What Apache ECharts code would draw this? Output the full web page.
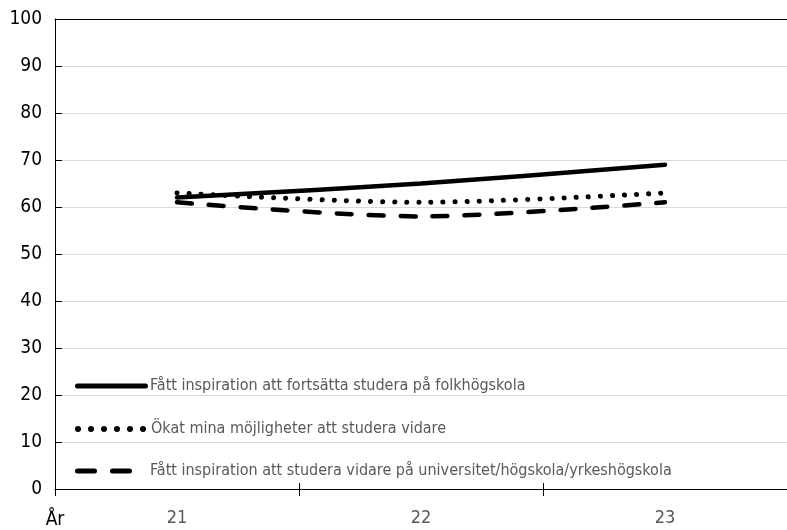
<!DOCTYPE html>
<html><head><meta charset="utf-8">
<script src="https://cdn.jsdelivr.net/npm/echarts@6/dist/echarts.min.js"></script>
<style>html,body{margin:0;padding:0;background:#fff}#c{width:787px;height:530px}</style>
</head><body><div id="c"></div>
<script>
const categories = ['21', '22', '23'];
const seriesNames = [
  'Fått inspiration att fortsätta studera på folkhögskola',
  'Ökat mina möjligheter att studera vidare',
  'Fått inspiration att studera vidare på universitet/högskola/yrkeshögskola'
];
const folkhogskola = [62, 65, 69];
const mojligheter = [63, 61, 63];
const universitet = [61, 58, 61];
const yTicks = [0, 10, 20, 30, 40, 50, 60, 70, 80, 90, 100];

const FONT = '"Liberation Sans Narrow", "DejaVu Sans Condensed", sans-serif';
const chart = echarts.init(document.getElementById('c'), null, {renderer: 'canvas'});

function roundBar(x0, x1) {
  return 'M' + (x0 + 2.5) + ',0 H' + (x1 - 2.5) + ' A2.5,2.5 0 0 1 ' + (x1 - 2.5) + ',5 H' + (x0 + 2.5) + ' A2.5,2.5 0 0 1 ' + (x0 + 2.5) + ',0 Z ';
}
function dot(cx) {
  return 'M' + (cx - 3) + ',3 A3,3 0 1 1 ' + (cx + 3) + ',3 A3,3 0 1 1 ' + (cx - 3) + ',3 Z ';
}
const iconSolid = 'path://' + roundBar(0, 73);
let dotsPath = '';
for (let i = 0; i < 6; i++) dotsPath += dot(3 + 13 * i);
const iconDots = 'path://' + dotsPath;
const iconDash = 'path://' + roundBar(0, 22) + roundBar(35, 57);

function legendAt(name, top, icon, w, h, padLeft) {
  return {
    data: [{name: name, icon: icon}], left: 75, top: top, orient: 'vertical',
    itemWidth: w, itemHeight: h, itemGap: 4, padding: 0,
    selectedMode: false,
    itemStyle: {color: '#000'},
    textStyle: {fontFamily: FONT, fontSize: 16, color: '#595959', padding: [0, 0, 0, padLeft]}
  };
}

chart.setOption({
  animation: false,
  color: ['#000', '#000', '#000'],
  grid: {left: 55, right: -6, top: 19, bottom: 38, containLabel: false},
  legend: [
    legendAt(seriesNames[0], 378, iconSolid, 73, 5, -3),
    legendAt(seriesNames[1], 421, iconDots, 71, 6, 0),
    legendAt(seriesNames[2], 463, iconDash, 57, 5, 13)
  ],
  xAxis: [
    {
      type: 'category', data: categories, boundaryGap: true, position: 'bottom',
      axisLine: {show: true, lineStyle: {color: '#000', width: 1}},
      axisTick: {show: true, inside: false, length: 7, lineStyle: {color: '#000'}},
      axisLabel: {fontFamily: FONT, fontSize: 18, color: '#595959', margin: 20},
      splitLine: {show: false}
    },
    {
      type: 'category', data: categories, boundaryGap: true, position: 'bottom',
      axisLine: {show: true, lineStyle: {color: '#000', opacity: 0}},
      axisTick: {show: true, inside: true, length: 6, lineStyle: {color: '#000'}},
      axisLabel: {show: false}, splitLine: {show: false}
    },
    {
      type: 'category', data: categories, boundaryGap: true, position: 'top',
      axisLine: {show: true, lineStyle: {color: '#000', width: 1}},
      axisTick: {show: false}, axisLabel: {show: false}, splitLine: {show: false}
    }
  ],
  yAxis: {
    type: 'value', min: yTicks[0], max: yTicks[yTicks.length - 1], interval: 10,
    name: 'År', nameLocation: 'start', nameGap: 22,
    nameTextStyle: {fontFamily: FONT, fontSize: 19, color: '#000'},
    axisLine: {show: true, lineStyle: {color: '#000', width: 1}},
    axisTick: {show: true, inside: true, length: 7, lineStyle: {color: '#000'}},
    axisLabel: {fontFamily: FONT, fontSize: 19, color: '#000', margin: 13},
    splitLine: {show: true, lineStyle: {color: '#d9d9d9', width: 1}}
  },
  series: [
    {
      name: seriesNames[0], type: 'line', data: folkhogskola, smooth: 0.3,
      symbol: 'none', itemStyle: {color: '#000'},
      lineStyle: {color: '#000', width: 4.5, cap: 'round'}
    },
    {
      name: seriesNames[1], type: 'line', data: mojligheter, smooth: 0.3,
      symbol: 'none', itemStyle: {color: '#000'},
      lineStyle: {color: '#000', width: 5, type: [0.1, 12], cap: 'round'}
    },
    {
      name: seriesNames[2], type: 'line', data: universitet, smooth: 0.3,
      symbol: 'none', itemStyle: {color: '#000'},
      lineStyle: {color: '#000', width: 4.5, type: [15, 17], cap: 'round'}
    }
  ]
});
</script></body></html>
